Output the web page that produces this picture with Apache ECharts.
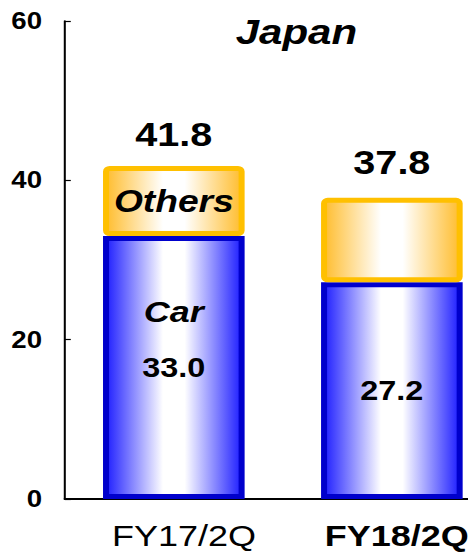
<!DOCTYPE html>
<html>
<head>
<meta charset="utf-8">
<script src="https://cdn.jsdelivr.net/npm/echarts@6/dist/echarts.min.js"></script>
<style>
  html, body { margin: 0; padding: 0; overflow: hidden; background: #fff; width: 468px; height: 553px; }
  /* the slide artwork is drawn narrow and widened; its right edge runs past the frame */
  #chart { width: 420px; height: 553px; transform: scaleX(1.2); transform-origin: 0 0; }
</style>
</head>
<body>
<div id="chart"></div>
<script>
// Sales in Japan, by segment (billion yen)
const categories = ['FY17/2Q', 'FY18/2Q'];
const carValues = [33.0, 27.2];
const othersValues = [8.8, 10.6];
const totals = [41.8, 37.8];
const yTicks = [0, 20, 40, 60];

const FONT = '"Liberation Sans", Arial, sans-serif';

const blueFill = new echarts.graphic.LinearGradient(0, 0, 1, 0, [
  { offset: 0, color: '#1e1eff' },
  { offset: 0.42, color: '#ffffff' },
  { offset: 0.58, color: '#ffffff' },
  { offset: 1, color: '#1e1eff' }
]);
const orangeFill = new echarts.graphic.LinearGradient(0, 0, 1, 0, [
  { offset: 0, color: '#ffbd2e' },
  { offset: 0.42, color: '#ffffff' },
  { offset: 0.58, color: '#ffffff' },
  { offset: 1, color: '#ffbd2e' }
]);

const totalDistance = [15, 19];

const carData = carValues.map((v, i) => ({
  value: v,
  label: i === 0
    ? { show: true, position: 'inside', offset: [0, -28],
        formatter: '{n|Car}\n{v|' + v.toFixed(1) + '}' }
    : { show: true, position: 'inside', formatter: '{v|' + v.toFixed(1) + '}' }
}));

const othersData = othersValues.map((v, i) => ({
  value: v,
  label: { show: i === 0, position: 'inside', formatter: 'Others',
           fontSize: 31, fontWeight: 'bold', fontStyle: 'italic', color: '#000', fontFamily: FONT }
}));

// totals sit on top of the stack
const totalData = totals.map((t, i) => ({
  value: 0,
  label: { show: true, position: 'top', distance: totalDistance[i],
           formatter: t.toFixed(1) }
}));

const chart = echarts.init(document.getElementById('chart'), null, { renderer: 'svg' });
chart.setOption({
  animation: false,
  backgroundColor: '#ffffff',
  title: {
    text: 'Japan',
    left: 242,
    top: 9,
    textAlign: 'center',
    textStyle: { fontFamily: FONT, fontSize: 35, fontWeight: 'bold', fontStyle: 'italic', color: '#000' }
  },
  grid: { left: 54, top: 21, width: 363.4, bottom: 54, containLabel: false },
  xAxis: {
    type: 'category',
    data: categories,
    axisLine: { show: true, lineStyle: { color: '#000', width: 2 } },
    axisTick: { show: false },
    axisLabel: {
      margin: 22,
      formatter: (v, i) => (i === 1 ? '{b|' + v + '}' : '{n|' + v + '}'),
      rich: {
        n: { fontFamily: FONT, fontSize: 30, color: '#000', padding: [0, 0, 0, 17] },
        b: { fontFamily: FONT, fontSize: 30, fontWeight: 'bold', color: '#000', padding: [0, 0, 0, 8] }
      }
    }
  },
  yAxis: {
    type: 'value',
    min: yTicks[0],
    max: yTicks[yTicks.length - 1],
    interval: yTicks[1] - yTicks[0],
    axisLine: { show: true, lineStyle: { color: '#000', width: 1.7 } },
    axisTick: { show: true, inside: true, length: 5, lineStyle: { color: '#000', width: 1.2 } },
    splitLine: { show: false },
    axisLabel: { margin: 19, fontFamily: FONT, fontSize: 23, fontWeight: 'bold', color: '#000' }
  },
  series: [
    {
      name: 'Car',
      type: 'bar',
      stack: 'sales',
      barWidth: 118,
      data: carData,
      itemStyle: { color: blueFill, borderColor: '#0000cc', borderWidth: 5 },
      label: {
        color: '#000',
        rich: {
          n: { fontFamily: FONT, fontSize: 30, fontWeight: 'bold', fontStyle: 'italic', lineHeight: 56, color: '#000' },
          v: { fontFamily: FONT, fontSize: 27, fontWeight: 'bold', lineHeight: 56, color: '#000' }
        }
      }
    },
    {
      name: 'Others',
      type: 'bar',
      stack: 'sales',
      barWidth: 118,
      data: othersData,
      itemStyle: { color: orangeFill, borderColor: '#ffc000', borderWidth: 5, borderRadius: 3 }
    },
    {
      name: 'Total',
      type: 'bar',
      stack: 'sales',
      barWidth: 118,
      data: totalData,
      itemStyle: { color: 'transparent' },
      label: { fontFamily: FONT, fontSize: 33, fontWeight: 'bold', color: '#000' }
    }
  ]
});
</script>
</body>
</html>
